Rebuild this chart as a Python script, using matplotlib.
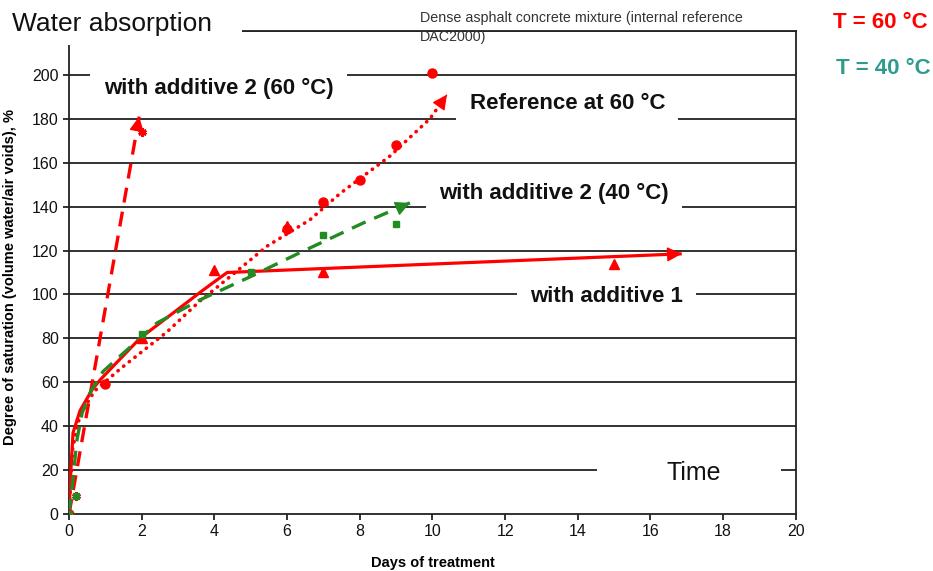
import matplotlib
matplotlib.use("Agg")
import matplotlib.pyplot as plt
from matplotlib.patches import Rectangle

plt.rcParams['font.family'] = ['Liberation Sans', 'DejaVu Sans']

# Measured points (days, degree of saturation %)
ref_days = [0, 1, 6, 7, 8, 9, 10]
ref_sat = [0, 59, 130, 142, 152, 168, 201]

add1_days = [0, 2, 4, 6, 7, 15]
add1_sat = [0, 80, 111, 131, 110, 114]

add2_60_days = [0, 0.2, 2]
add2_60_sat = [0, 8, 174]

add2_40_days = [0, 0.2, 2, 5, 7, 9]
add2_40_sat = [0, 8, 82, 110, 127, 132]

# Trend lines
ref_trend_x = [0, 0.1, 0.3, 0.7, 1.4, 2.7, 3.6, 4.35, 5.45, 6.63, 7.46, 8.83, 9.93, 10.4]
ref_trend_y = [0, 30, 45, 56, 66, 83, 97, 107, 122, 134, 146, 163, 180, 191]

add1_trend_x = [0, 0.05, 0.11, 0.3, 0.63, 0.85, 1.95, 3.69, 4.35, 16.86]
add1_trend_y = [0, 20, 37, 47, 56.5, 61, 80, 102, 110, 118.5]

add2_60_trend_x = [0, 1.93]
add2_60_trend_y = [0, 181]

add2_40_trend_x = [0, 0.1, 0.22, 0.36, 0.6, 0.94, 2.42, 3.6, 4.98, 6.35, 8.09, 9.38]
add2_40_trend_y = [0, 15, 34, 46, 56, 65, 87, 97.5, 108, 119, 132.5, 141.7]

y_ticks = list(range(0, 201, 20))
x_ticks = list(range(0, 21, 2))

RED = '#FF0000'
GREEN = '#228B22'
TEAL = '#2E9C8C'

fig = plt.figure(figsize=(9.33, 5.71), dpi=100)
ax = fig.add_axes([0.074, 0.0998, 0.779, 0.846])

ax.set_xlim(0, 20)
ax.set_ylim(0, 220)
ax.set_xticks(x_ticks)
ax.set_yticks(y_ticks)
ax.tick_params(direction='out', length=4, width=1.2, labelsize=11.5, colors='#111111')
for s in ax.spines.values():
    s.set_color('#222222')
    s.set_linewidth(1.3)
for yv in y_ticks[1:] + [220]:
    ax.axhline(yv, color='#222222', lw=1.3, zorder=1)


def arrow_end(xs, ys, color):
    x1, y1 = xs[-1], ys[-1]
    x0, y0 = xs[-2], ys[-2]
    ax.annotate('', xy=(x1, y1),
                xytext=(x1 - 0.02 * (x1 - x0), y1 - 0.02 * (y1 - y0)),
                arrowprops=dict(arrowstyle='-|>,head_length=0.9,head_width=0.45',
                                color=color, lw=1, shrinkA=0, shrinkB=0),
                zorder=4)


# trend lines
ax.plot(add1_trend_x, add1_trend_y, color=RED, lw=2.3, zorder=3, solid_capstyle='butt')
arrow_end(add1_trend_x, add1_trend_y, RED)

ax.plot(ref_trend_x, ref_trend_y, color=RED, lw=2.6, linestyle=(0, (0.1, 1.9)),
        dash_capstyle='round', zorder=3)
arrow_end(ref_trend_x, ref_trend_y, RED)

ax.plot(add2_60_trend_x, add2_60_trend_y, color=RED, lw=2.4, linestyle=(0, (4.5, 2.8)), zorder=3)
arrow_end(add2_60_trend_x, add2_60_trend_y, RED)

ax.plot(add2_40_trend_x, add2_40_trend_y, color=GREEN, lw=2.4, linestyle=(0, (4.5, 2.8)), zorder=3)
arrow_end(add2_40_trend_x, add2_40_trend_y, GREEN)

# measured points
ax.plot(ref_days, ref_sat, 'o', color=RED, ms=6.5, zorder=5)
ax.plot(add1_days, add1_sat, '^', color=RED, ms=7, zorder=5)
ax.plot(add2_60_days, add2_60_sat, marker=(6, 2, 0), linestyle='none', color=RED,
        ms=6, mew=2, zorder=5)
ax.plot(add2_40_days, add2_40_sat, 's', color=GREEN, ms=4, zorder=5)

# labels on the plot
box = dict(boxstyle='square,pad=0.6', facecolor='white', edgecolor='none')
lab_kw = dict(fontsize=16, fontweight='bold', ha='center', va='center', color='#111111',
              bbox=box, zorder=2)
ax.text(4.11, 194, 'with additive 2 (60 °C)', **lab_kw)
ax.text(13.71, 187, 'Reference at 60 °C', **lab_kw)
ax.text(13.34, 146, 'with additive 2 (40 °C)', **lab_kw)
ax.text(14.79, 99, 'with additive 1', **lab_kw)

ax.add_patch(Rectangle((14.53, 14), 5.05, 10, facecolor='white', edgecolor='none', zorder=2))
ax.text(17.19, 18.7, 'Time', fontsize=18, ha='center', va='center', color='#111111', zorder=2)

ax.set_xlabel('Days of treatment', fontsize=10.5, fontweight='bold')
ax.xaxis.set_label_coords(0.5, -0.086)
ax.set_ylabel('Degree of saturation (volume water/air voids), %', fontsize=10.5, fontweight='bold')
ax.yaxis.set_label_coords(-0.072, 0.49)

# figure-level text
fig.patches.append(Rectangle((0, 1 - 45 / 571), 242 / 933, 45 / 571, transform=fig.transFigure,
                             facecolor='white', edgecolor='none', zorder=10))
fig.text(12 / 933, 1 - 24 / 571, 'Water absorption', fontsize=19, va='center', ha='left',
         color='#111111', zorder=11)
fig.text(420 / 933, 1 - 11 / 571, 'Dense asphalt concrete mixture (internal reference\nDAC2000)',
         fontsize=10.3, va='top', ha='left', color='#333333', linespacing=1.45, zorder=11)
fig.text(833 / 933, 1 - 22 / 571, 'T = 60 °C', fontsize=16, fontweight='bold', color=RED,
         va='center', ha='left')
fig.text(836 / 933, 1 - 68 / 571, 'T = 40 °C', fontsize=16, fontweight='bold', color=TEAL,
         va='center', ha='left')

fig.savefig('out.png', dpi=100)
